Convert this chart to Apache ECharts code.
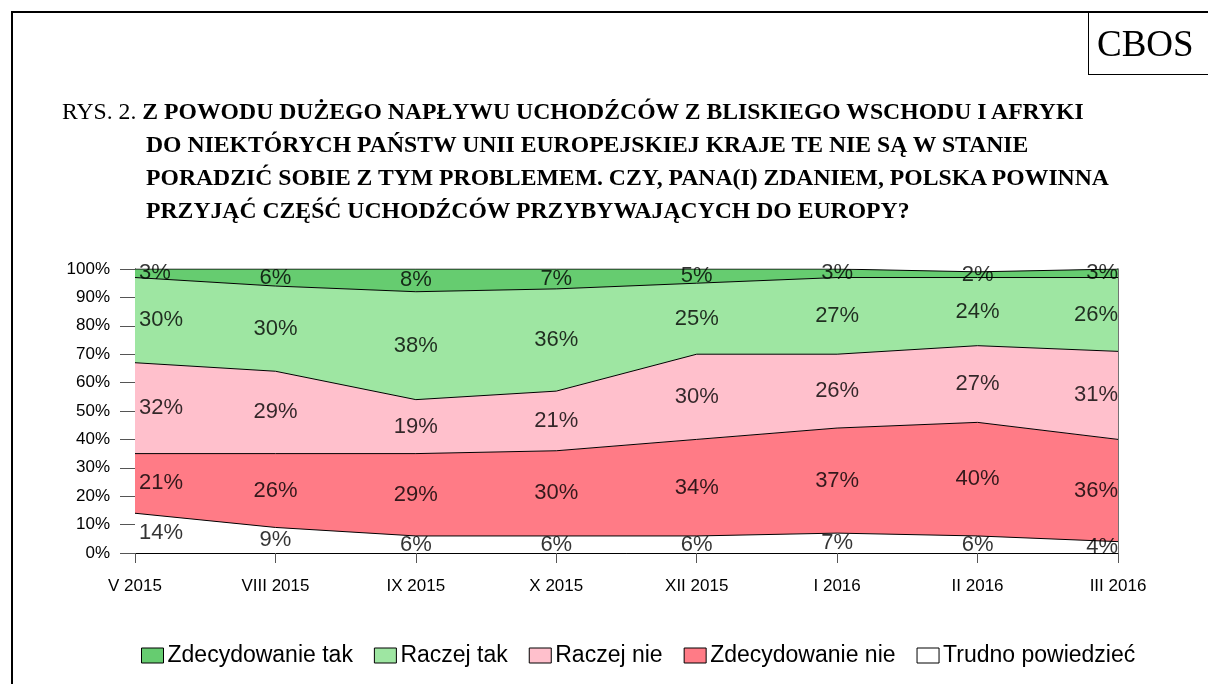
<!DOCTYPE html>
<html lang="pl">
  <head>
    <meta charset="UTF-8" />
    <title>CBOS RYS. 2</title>
    <style>
      * {
        padding: 0;
        margin: 0;
      }
      html,
      body {
        width: 1208px;
        height: 684px;
        background: #fff;
        overflow: hidden;
        position: relative;
      }
      #main {
        position: absolute;
        left: 0;
        top: 0;
        width: 1208px;
        height: 684px;
      }
      .frame {
        position: absolute;
        left: 11px;
        top: 11px;
        width: 1210px;
        height: 700px;
        border-left: 2px solid #000;
        border-top: 2px solid #000;
      }
      .cbos {
        position: absolute;
        left: 1088px;
        top: 12px;
        width: 130px;
        height: 63px;
        border-left: 1.5px solid #000;
        border-bottom: 1.5px solid #000;
        font-family: 'Liberation Serif', serif;
        font-size: 37px;
        line-height: 63px;
        padding-left: 8px;
        box-sizing: border-box;
      }
      .title {
        position: absolute;
        left: 62px;
        top: 95px;
        font-family: 'Liberation Serif', serif;
        font-size: 23.7px;
        line-height: 33px;
        color: #000;
        white-space: nowrap;
      }
      .title b {
        font-weight: bold;
      }
      .title .ind {
        padding-left: 84px;
      }
    </style>
  </head>
  <body>
    <div id="main"></div>
    <div class="frame"></div>
    <div class="cbos">CBOS</div>
    <div class="title">
      <div>RYS. 2. <b>Z POWODU DUŻEGO NAPŁYWU UCHODŹCÓW Z BLISKIEGO WSCHODU I AFRYKI</b></div>
      <div class="ind"><b>DO NIEKTÓRYCH PAŃSTW UNII EUROPEJSKIEJ KRAJE TE NIE SĄ W STANIE</b></div>
      <div class="ind"><b>PORADZIĆ SOBIE Z TYM PROBLEMEM. CZY, PANA(I) ZDANIEM, POLSKA POWINNA</b></div>
      <div class="ind"><b>PRZYJĄĆ CZĘŚĆ UCHODŹCÓW PRZYBYWAJĄCYCH DO EUROPY?</b></div>
    </div>
    <script src="https://cdn.jsdelivr.net/npm/echarts@6/dist/echarts.min.js"></script>
    <script>
      // dane
      var categories = ['V 2015', 'VIII 2015', 'IX 2015', 'X 2015', 'XII 2015', 'I 2016', 'II 2016', 'III 2016'];
      var trudno = [14, 9, 6, 6, 6, 7, 6, 4];
      var zdecNie = [21, 26, 29, 30, 34, 37, 40, 36];
      var raczejNie = [32, 29, 19, 21, 30, 26, 27, 31];
      var raczejTak = [30, 30, 38, 36, 25, 27, 24, 26];
      var zdecTak = [3, 6, 8, 7, 5, 3, 2, 3];

      // od dołu
      var layers = [
        { name: 'Trudno powiedzieć', data: trudno, color: '#ffffff' },
        { name: 'Zdecydowanie nie', data: zdecNie, color: '#ff7b86' },
        { name: 'Raczej nie', data: raczejNie, color: '#ffc0cc' },
        { name: 'Raczej tak', data: raczejTak, color: '#9ee6a2' },
        { name: 'Zdecydowanie tak', data: zdecTak, color: '#66cc70' }
      ];

      var font = 'Liberation Sans, Arial, sans-serif';
      var myChart = echarts.init(document.getElementById('main'));

      var series = [];
      var labelData = [];
      var base = categories.map(function() { return 0; });
      layers.forEach(function(l) {
        series.push({
          name: l.name,
          type: 'line',
          stack: 'all',
          symbol: 'none',
          data: l.data,
          itemStyle: { color: l.color },
          lineStyle: { color: '#000', width: 1 },
          areaStyle: { color: l.color, opacity: 1 },
          emphasis: { disabled: true },
          z: 2
        });
        l.data.forEach(function(v, i) {
          var pos = 'inside';
          if (i === 0) pos = 'right';
          if (i === categories.length - 1) pos = 'left';
          labelData.push({
            value: [i, base[i] + v / 2, v],
            label: { position: pos, distance: i === 0 ? 4 : 0 }
          });
          base[i] += v;
        });
      });
      // etykiety w środku pasm
      series.push({
        type: 'scatter',
        symbolSize: 0,
        data: labelData,
        silent: true,
        z: 5,
        label: {
          show: true,
          color: '#000',
          fontFamily: font,
          fontSize: 22,
          formatter: function(p) { return p.value[2] + '%'; }
        }
      });

      var option = {
        animation: false,
        grid: { left: 135, right: 90, top: 269, bottom: 131 },
        legend: {
          data: ['Zdecydowanie tak', 'Raczej tak', 'Raczej nie', 'Zdecydowanie nie', 'Trudno powiedzieć'],
          left: 136,
          top: 639,
          icon: 'rect',
          itemWidth: 22,
          itemHeight: 15,
          itemGap: 21,
          itemStyle: { borderColor: '#000', borderWidth: 1 },
          textStyle: { fontFamily: font, fontSize: 23, color: '#000', padding: [0, 0, 0, -1] }
        },
        xAxis: [
          {
            type: 'category',
            data: categories,
            boundaryGap: false,
            axisLine: { lineStyle: { color: '#000', width: 1 } },
            axisTick: { length: 10, lineStyle: { color: '#555' } },
            axisLabel: { color: '#000', fontFamily: font, fontSize: 17, margin: 25 }
          },
          {
            type: 'category',
            data: categories,
            boundaryGap: false,
            position: 'top',
            axisLine: { lineStyle: { color: '#000', width: 1 } },
            axisTick: { show: false },
            axisLabel: { show: false }
          }
        ],
        yAxis: [
          {
            type: 'value',
            min: 0,
            max: 100,
            interval: 10,
            axisLine: { show: true, lineStyle: { color: '#000', width: 1 } },
            axisTick: { show: true, length: 15, lineStyle: { color: '#555' } },
            splitLine: { show: false },
            axisLabel: { color: '#000', fontFamily: font, fontSize: 17, margin: 25, formatter: '{value}%' }
          },
          {
            type: 'value',
            min: 0,
            max: 100,
            position: 'right',
            axisLine: { show: true, lineStyle: { color: '#444', width: 1.5 } },
            axisTick: { show: false },
            splitLine: { show: false },
            axisLabel: { show: false }
          }
        ],
        series: series
      };
      myChart.setOption(option);
    </script>
  </body>
</html>
